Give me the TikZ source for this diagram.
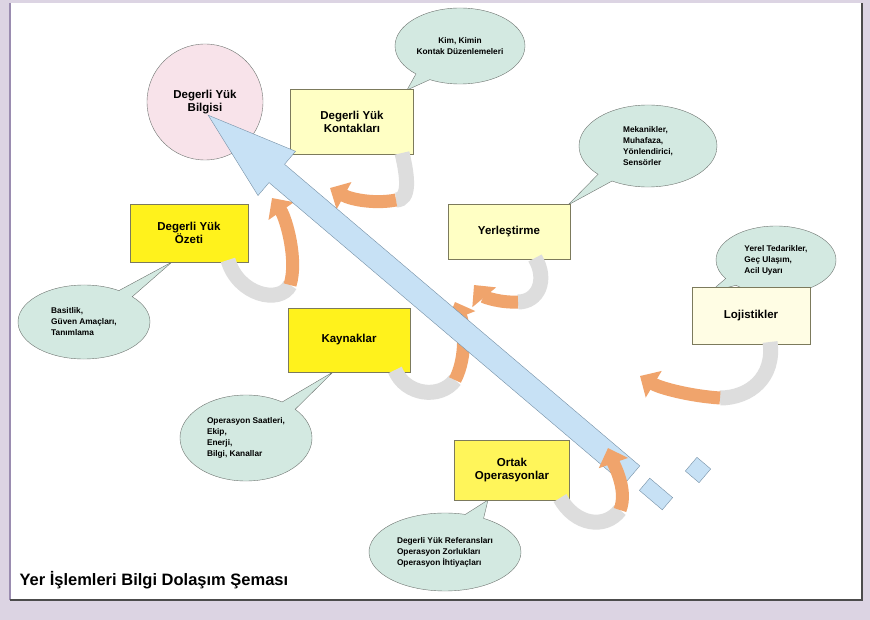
\documentclass[tikz,border=0pt]{standalone}
\usepackage{fontspec}
\setmainfont{Liberation Sans}
\usepackage{tikz}
\usetikzlibrary{shapes.geometric, shapes.callouts, arrows.meta, positioning}
\definecolor{framelav}{HTML}{DCD4E3}
\definecolor{frameline}{HTML}{9A8CB0}
\definecolor{paleyellow}{HTML}{FFFFC4}
\definecolor{brightyellow}{HTML}{FFF21C}
\definecolor{creamyellow}{HTML}{FFFDE4}
\definecolor{midyellow}{HTML}{FFF55A}
\definecolor{boxline}{HTML}{7C7A5C}
\definecolor{bubblegreen}{HTML}{D3E9E1}
\definecolor{bubbleline}{HTML}{6E7470}
\definecolor{infopink}{HTML}{F8E3EA}
\definecolor{arrowblue}{HTML}{C7E1F5}
\definecolor{arrowline}{HTML}{7590A6}
\definecolor{bandgrey}{HTML}{DDDDDD}
\definecolor{bandorange}{HTML}{F0A46C}
\newcommand\boxfont{\fontsize{11.5}{13.5}\selectfont\bfseries}
\newcommand\bubblefont{\fontsize{8.3}{11}\selectfont\bfseries}
\tikzset{yukbox/.style = {minimum width=120pt, minimum height=60pt, text centered, align=center, draw=boxline, font=\boxfont, inner sep=2pt}}
\tikzset{paleyk/.style = {yukbox, fill=paleyellow}}
\tikzset{brightyk/.style = {yukbox, fill=brightyellow}}
\tikzset{bubble/.style = {ellipse callout, draw=bubbleline, fill=bubblegreen, font=\bubblefont, align=left, inner sep=0pt, callout pointer width=18pt}}
\tikzset{greyband/.style = {line width=15pt, color=bandgrey}}
\tikzset{orangeband/.style = {line width=13pt, color=bandorange, -{Triangle[width=30pt,length=16pt]}}}
\tikzset{tailbit/.style = {draw=arrowline, fill=arrowblue, rotate=-40.33}}

\begin{document}
\begin{tikzpicture}[x=1pt, y=-1pt]
\useasboundingbox (0,0) rectangle (870,620);
% frame
\fill[framelav] (0,0) rectangle (870,620);
\fill[white] (10,3) rectangle (862,600);
\draw[frameline, line width=2pt] (10,3) -- (10,600);
\draw[black!70, line width=2pt] (10,600) -- (862,600) -- (862,3);

% callouts
\node [bubble, align=center, minimum width=130pt, minimum height=76pt, callout absolute pointer={(407,90)}] (kimb) at (460,46) {Kim, Kimin\\Kontak Düzenlemeleri};
\node [bubble, minimum width=138pt, minimum height=82pt, callout absolute pointer={(568,205)}] (mekb) at (648,146) {Mekanikler,\\Muhafaza,\\Yönlendirici,\\Sensörler};
\node [bubble, minimum width=120pt, minimum height=68pt, callout absolute pointer={(710,292)}] (yerb) at (776,260) {Yerel Tedarikler,\\Geç Ulaşım,\\Acil Uyarı};
\node [bubble, minimum width=132pt, minimum height=74pt, callout absolute pointer={(172,262)}] (basb) at (84,322) {Basitlik,\\Güven Amaçları,\\Tanımlama};
\node [bubble, minimum width=132pt, minimum height=86pt, callout absolute pointer={(333,372)}] (opsb) at (246,438) {Operasyon Saatleri,\\Ekip,\\Enerji,\\Bilgi, Kanallar};
\node [bubble, minimum width=152pt, minimum height=78pt, callout absolute pointer={(488,500)}] (refb) at (445,552) {Degerli Yük Referansları\\Operasyon Zorlukları\\Operasyon İhtiyaçları};

% main items
\node [circle, draw=bubbleline, fill=infopink, minimum size=116pt, align=center, font=\boxfont] (info) at (205,102) {Degerli Yük\\Bilgisi};
\node [paleyk, minimum width=123pt, minimum height=65pt] (kont) at (352,122) {Degerli Yük\\Kontakları};
\node [brightyk, minimum width=118pt, minimum height=58pt] (ozet) at (189,233) {Degerli Yük\\Özeti};
\node [paleyk, minimum width=122pt, minimum height=55pt] (yerl) at (509,232) {Yerleştirme};
\node [brightyk, minimum width=122pt, minimum height=64pt] (kayn) at (349,340) {Kaynaklar};
\node [yukbox, fill=creamyellow, minimum width=118pt, minimum height=57pt] (loji) at (751,316) {Lojistikler};
\node [yukbox, fill=midyellow, minimum width=115pt, minimum height=60pt] (ortak) at (512,470) {Ortak\\Operasyonlar};

% curved feeders
\draw [greyband] (402,153) .. controls +(6,25) and +(14,0) .. (396,200) coordinate (k1);
\draw [orangeband] (k1) .. controls +(-20,4) and +(22,12) .. (330,188);
\draw [greyband] (228,260) .. controls +(10,35) and +(-10,20) .. (290,285) coordinate (o1);
\draw [orangeband] (o1) .. controls +(8,-25) and +(14,20) .. (272,198);
\draw [greyband] (535,258) .. controls +(13,22) and +(20,0) .. (518,302) coordinate (y1);
\draw [orangeband] (y1) .. controls +(-18,1) and +(10,12) .. (474,285);
\draw [greyband] (395,370) .. controls +(10,25) and +(-15,20) .. (455,380) coordinate (r1);
\draw [orangeband] (r1) .. controls +(13,-25) and +(8,20) .. (455,302);
\draw [greyband] (770,342) .. controls +(5,35) and +(30,0) .. (720,398) coordinate (l1);
\draw [orangeband] (l1) .. controls +(-30,-2) and +(20,12) .. (640,376);
\draw [greyband] (560,498) .. controls +(15,27) and +(-15,20) .. (620,510) coordinate (p1);

% big arrow into the info circle
\begin{scope}[shift={(632,475)}, rotate=139.67]
\draw [arrowline, fill=arrowblue] (0,12) -- (466,12) -- (466,29) -- (556,0) -- (466,-29) -- (466,-12) -- (0,-12) -- cycle;
\end{scope}
\draw [orangeband] (p1) .. controls +(8,-20) and +(6,17) .. (608,448);
\node [tailbit, minimum width=30pt, minimum height=16pt] (bit1) at (656,494) {};
\node [tailbit, minimum width=18pt, minimum height=18pt] (bit2) at (698,470) {};

% title
\node [anchor=west, font=\fontsize{16.5}{18}\selectfont\bfseries] (title) at (16,580) {Yer İşlemleri Bilgi Dolaşım Şeması};
\end{tikzpicture}
\end{document}
